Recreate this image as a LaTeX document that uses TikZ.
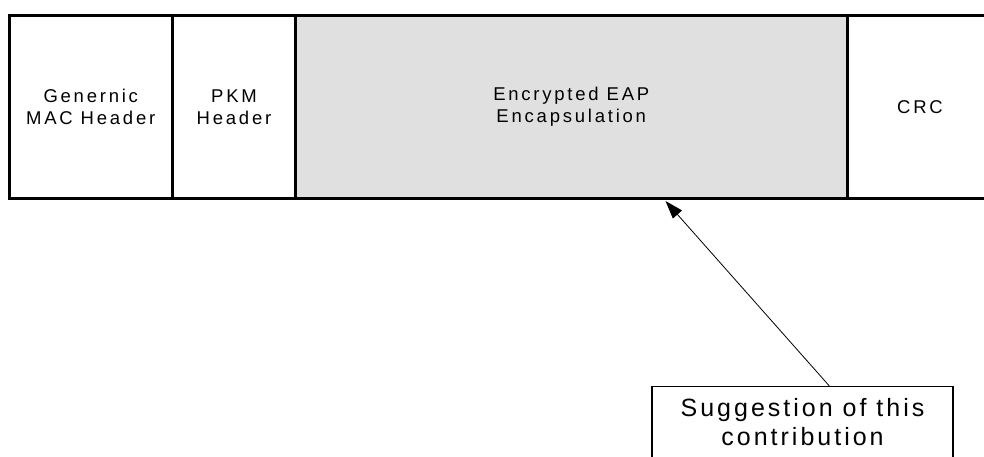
\documentclass[tikz,border=0pt]{standalone}
\usepackage{fontspec}
\usetikzlibrary{arrows.meta,calc}
\newfontfamily\hfont[LetterSpace=15]{Liberation Sans}
\newfontfamily\sfontx[LetterSpace=12]{Liberation Sans}
\definecolor{cellgray}{HTML}{E0E0E0}
\begin{document}
\begin{tikzpicture}[x=1pt,y=-1pt,
  cell/.style={draw=black,line width=3pt,rectangle,inner sep=0pt,align=center,
    minimum height=183.2pt,font=\hfont\fontsize{18.5}{22}\selectfont},
  note/.style={draw=black,line width=1.3pt,rectangle,inner sep=0pt,align=center,
    font=\sfontx\fontsize{25}{29}\selectfont},
  pointer/.style={-{Triangle[length=18pt,width=12pt]},line width=0.8pt}]
\useasboundingbox (0,0) rectangle (984,457);
\clip (0,0) rectangle (984,457);
% frame cells
\node[cell,fill=white,minimum width=163.5pt] (gmh) at (90.75,106.9) {Genernic\\MAC Header};
\node[cell,fill=white,minimum width=123pt] (pkm) at (234,106.9) {PKM\\Header};
\node[cell,fill=cellgray,minimum width=551.5pt] (eap) at (571.25,106.9) {Encrypted EAP\\Encapsulation};
\node[cell,fill=white,minimum width=146pt] (crc) at (920,106.9) {CRC};
% note box
\node[note,minimum width=301pt,minimum height=71pt,anchor=north] (sugg) at (802.5,386) {Suggestion of this\\contribution};
\coordinate (tail) at ($(sugg.north west)+(178,0)$);
\coordinate (tip) at ($(eap.south west)+(371.5,1)$);
\draw[pointer] (tail) -- (tip);
\end{tikzpicture}
\end{document}
